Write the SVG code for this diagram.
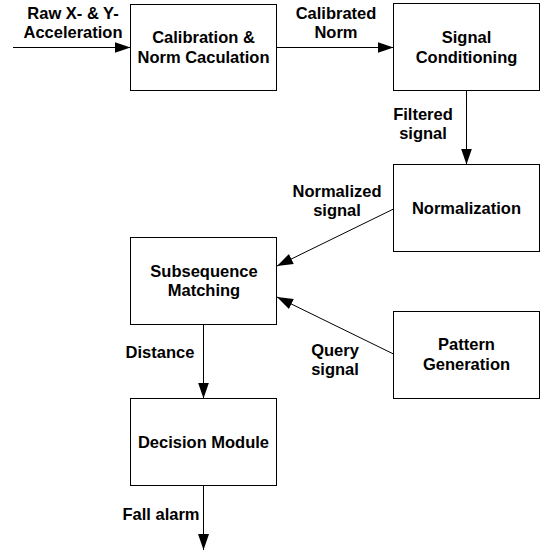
<svg xmlns="http://www.w3.org/2000/svg" width="547" height="560" viewBox="0 0 547 560">
<style>
.box{fill:#fff;stroke:#000;stroke-width:1}
.t{font-family:"Liberation Sans",Arial,sans-serif;font-weight:bold;font-size:16.5px;fill:#000;text-anchor:middle}
.c{stroke:#000;stroke-width:1;fill:none;marker-end:url(#ah)}
</style>
<defs>
<marker id="ah" markerUnits="userSpaceOnUse" markerWidth="16" markerHeight="11" refX="16" refY="5.5" orient="auto">
<path d="M0,0 L16,5.5 L0,11 Z" fill="#000"/>
</marker>
</defs>
<rect width="547" height="560" fill="#fff"/>
<g id="connectors">
<line class="c" x1="13" y1="47.5" x2="130.5" y2="47.5"/>
<line class="c" x1="276.5" y1="47.5" x2="393.5" y2="47.5"/>
<line class="c" x1="466.5" y1="90.5" x2="466.5" y2="164.5"/>
<line class="c" x1="393.5" y1="209" x2="277" y2="266"/>
<line class="c" x1="393.5" y1="354" x2="277" y2="297"/>
<line class="c" x1="203.5" y1="324.5" x2="203.5" y2="398.5"/>
<line class="c" x1="203.5" y1="485.5" x2="203.5" y2="550"/>
</g>
<g id="labels">
<text class="t" x="73" y="19">Raw X- &amp; Y-</text>
<text class="t" x="73" y="38">Acceleration</text>
<text class="t" x="336" y="19">Calibrated</text>
<text class="t" x="336" y="38">Norm</text>
<text class="t" x="423" y="120">Filtered</text>
<text class="t" x="423" y="139">signal</text>
<text class="t" x="337" y="197">Normalized</text>
<text class="t" x="337" y="216">signal</text>
<text class="t" x="335" y="356">Query</text>
<text class="t" x="335" y="375">signal</text>
<text class="t" x="160" y="358">Distance</text>
<text class="t" x="161" y="520">Fall alarm</text>
</g>
<g id="calibration">
<rect class="box" x="130.5" y="4.5" width="146" height="86"/>
<text class="t" x="203.5" y="43">Calibration &amp;</text>
<text class="t" x="203.5" y="63">Norm Caculation</text>
</g>
<g id="signal-conditioning">
<rect class="box" x="393.5" y="3.5" width="146" height="87"/>
<text class="t" x="466.5" y="43">Signal</text>
<text class="t" x="466.5" y="63">Conditioning</text>
</g>
<g id="normalization">
<rect class="box" x="393.5" y="164.5" width="146" height="87"/>
<text class="t" x="466.5" y="214">Normalization</text>
</g>
<g id="subsequence-matching">
<rect class="box" x="130.5" y="237.5" width="146" height="87"/>
<text class="t" x="204" y="277">Subsequence</text>
<text class="t" x="204" y="296">Matching</text>
</g>
<g id="pattern-generation">
<rect class="box" x="393.5" y="311.5" width="146" height="87"/>
<text class="t" x="466.5" y="350">Pattern</text>
<text class="t" x="466.5" y="370">Generation</text>
</g>
<g id="decision-module">
<rect class="box" x="130.5" y="398.5" width="146" height="87"/>
<text class="t" x="203.5" y="448">Decision Module</text>
</g>
</svg>
